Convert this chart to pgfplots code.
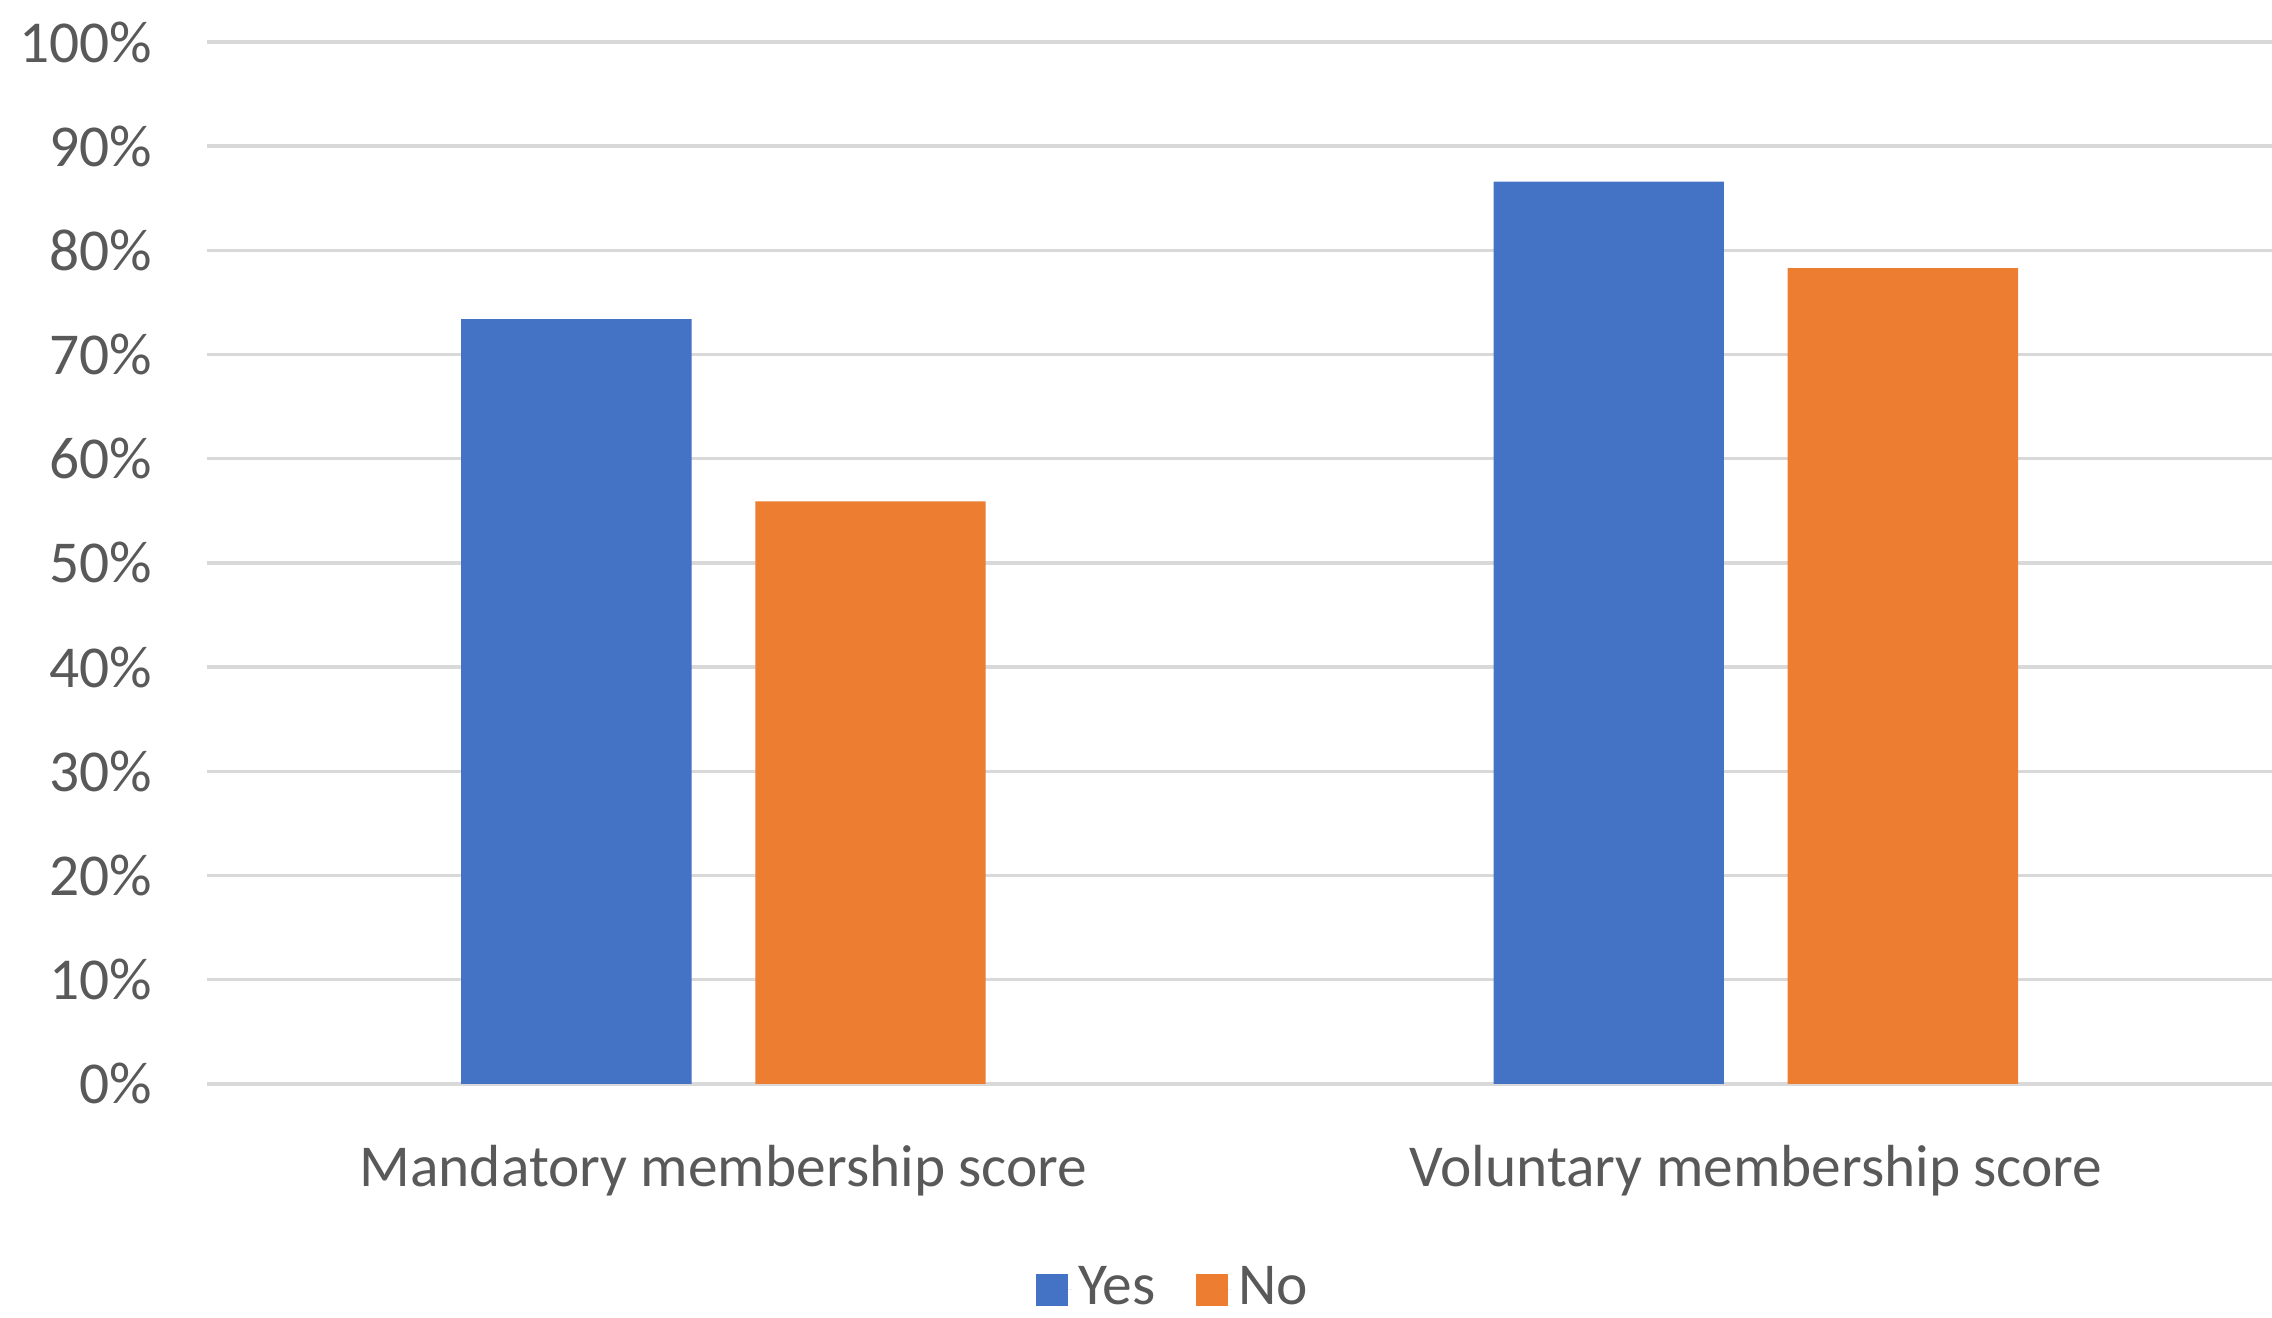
\documentclass[border=0pt]{standalone}
\usepackage{pgfplots}
\pgfplotsset{compat=1.18}
\usepackage{fontspec}
\setmainfont{Carlito}
\definecolor{cblue}{HTML}{4472C4}
\definecolor{corange}{HTML}{ED7D31}
\definecolor{cgrid}{HTML}{D9D9D9}
\definecolor{ctext}{HTML}{595959}
\begin{document}
\fontsize{20.5}{24}\selectfont
\begin{tikzpicture}
\begin{axis}[
  scale only axis,
  width=712.5pt, height=359.5pt,
  xmin=-0.5, xmax=1.5,
  ymin=0, ymax=100,
  ytick={0,10,...,100},
  yticklabel={\pgfmathprintnumber{\tick}\%},
  /pgf/number format/assume math mode=true,
  xtick={0,1},
  xticklabels={Mandatory membership score, Voluntary membership score},
  ymajorgrids,
  grid style={cgrid, line width=1.2pt},
  axis line style={draw=none},
  major tick length=0pt,
  tick label style={font=\fontsize{20.5}{24}\selectfont, text=ctext},
  yticklabel style={xshift=-12pt},
  xticklabel style={yshift=-14pt},
  legend style={at={(0.4687,-0.1975)}, anchor=center, draw=none, fill=none,
    legend columns=2, font=\fontsize{20.5}{24}\selectfont, text=ctext,
    /tikz/every even column/.append style={column sep=12pt},
    legend cell align=left},
  legend image code/.code={\fill[#1] (0pt,-5.5pt) rectangle (11pt,5.5pt); \path (0pt,0pt) -- (12.5pt,0pt);},
]
\addplot[ybar, bar width=79.5pt, bar shift=-50.75pt, fill=cblue, draw=none] coordinates {(0,73.4) (1,86.6)};
\addplot[ybar, bar width=79.5pt, bar shift=50.75pt, fill=corange, draw=none] coordinates {(0,55.9) (1,78.3)};
\legend{Yes, No}
\coordinate (O) at (rel axis cs:0,0);
\end{axis}
\pgfresetboundingbox
\path (O) ++(-71.5pt,-80.5pt) rectangle ++(784pt,454.5pt);
\end{tikzpicture}
\end{document}
